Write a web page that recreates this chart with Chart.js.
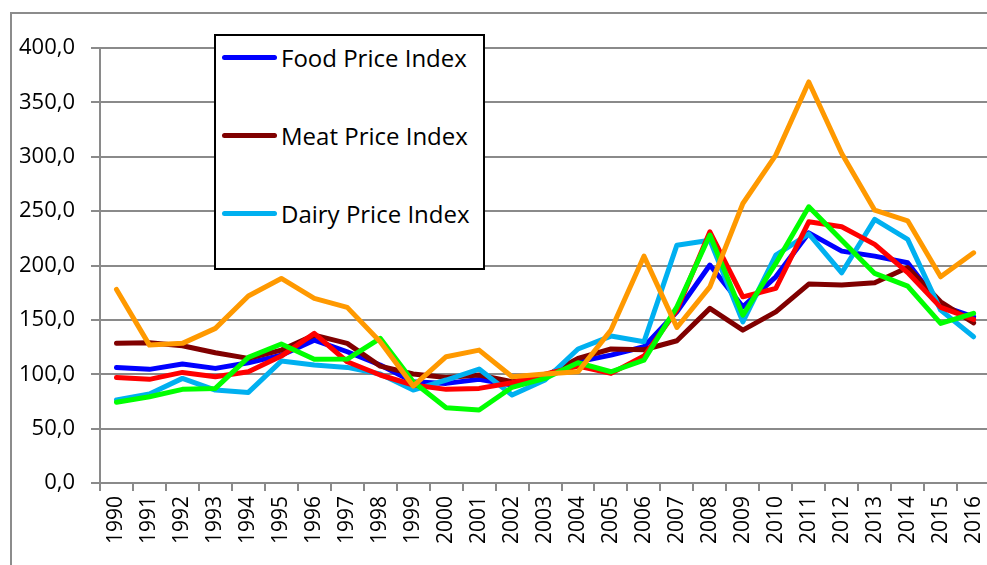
<!DOCTYPE html>
<html><head><meta charset="utf-8">
<script src="https://cdn.jsdelivr.net/npm/chart.js@4/dist/chart.umd.min.js"></script>
<style>
html,body{margin:0;padding:0;overflow:hidden;background:#fff;width:987px;height:565px;}
#wrap{position:relative;width:987px;height:565px;overflow:hidden;background:#fff;}
#frame{position:absolute;left:10px;top:12px;width:1100px;height:700px;border:2px solid #8c8c8c;box-sizing:border-box;}
#c{position:absolute;left:0;top:0;}
#legend{position:absolute;left:214px;top:34px;width:271px;height:236px;border:2px solid #000;background:#fff;box-sizing:border-box;font-family:'Open Sans',sans-serif;font-size:24px;color:#000;}
.item{position:absolute;left:6px;height:30px;display:flex;align-items:center;white-space:nowrap;}
.swatch{width:55px;height:5px;border-radius:3px;margin-right:4px;}
</style></head>
<body>
<div id="wrap">
<div id="frame"></div>
<canvas id="c" width="1004" height="565"></canvas>
<div id="legend"></div>
</div>
<script>
const years = ['1990','1991','1992','1993','1994','1995','1996','1997','1998','1999','2000','2001','2002','2003','2004','2005','2006','2007','2008','2009','2010','2011','2012','2013','2014','2015','2016'];
const foodIndex = [106.3,104.5,109.4,105.4,110.5,117.6,131.4,120.7,108.5,93.1,91.6,95.3,90.1,98.0,111.5,117.6,125.3,157.4,200.4,162.0,189.6,230.0,213.2,208.6,202.5,163.0,152.8];
const meatIndex = [128.4,129.0,126.2,119.8,114.6,122.2,136.0,128.4,107.5,100.2,97.1,99.3,93.1,98.3,114.6,123.2,122.5,130.8,160.6,140.6,157.4,182.9,182.0,184.1,198.2,166.6,147.3];
const dairyIndex = [76.3,81.8,96.2,85.5,83.3,112.1,108.5,106.3,100.2,85.5,94.7,104.8,80.9,94.7,123.2,135.1,129.9,218.7,223.3,148.2,209.5,229.0,193.3,242.4,224.0,159.0,134.5];
const cerealsIndex = [97.1,95.3,101.7,97.7,102.3,116.7,137.6,111.5,99.3,90.1,86.1,87.0,92.2,100.0,107.5,100.8,116.7,159.0,231.0,171.2,178.9,240.2,235.6,219.4,193.5,161.5,150.4];
const oilsIndex = [74.2,79.3,86.1,87.0,115.5,127.8,113.7,114.0,133.0,93.1,69.2,67.1,88.0,96.2,110.6,102.3,113.0,162.0,228.0,154.4,201.9,254.0,223.3,192.7,181.0,146.8,156.0];
const sugarIndex = [178.0,126.8,128.4,142.2,172.0,188.1,169.7,161.5,129.9,89.1,116.1,122.2,97.7,100.2,102.3,140.6,208.6,143.0,180.4,257.0,301.5,368.8,303.0,250.9,241.1,189.6,211.7];
const yTickLabels = ['0,0','50,0','100,0','150,0','200,0','250,0','300,0','350,0','400,0'];
const legendNames = ['Food Price Index','Meat Price Index','Dairy Price Index'];

const series = [
  {label:'Food Price Index', data:foodIndex, color:'#0000ff', order:6},
  {label:'Meat Price Index', data:meatIndex, color:'#800000', order:5},
  {label:'Dairy Price Index', data:dairyIndex, color:'#00b0f0', order:4},
  {label:'Cereals Price Index', data:cerealsIndex, color:'#ff0000', order:3},
  {label:'Oils Price Index', data:oilsIndex, color:'#00ff00', order:2},
  {label:'Sugar Price Index', data:sugarIndex, color:'#ff9900', order:1}
];

const gridColor = '#8a8a8a';
new Chart(document.getElementById('c'), {
  type:'line',
  data:{
    labels:years,
    datasets:series.map(s=>({label:s.label,data:s.data,borderColor:s.color,backgroundColor:s.color,borderWidth:5,pointRadius:0,tension:0,borderCapStyle:'round',borderJoinStyle:'round',order:s.order,fill:false}))
  },
  options:{
    responsive:false,animation:false,devicePixelRatio:1,
    layout:{padding:{left:0,top:48,right:10,bottom:0}},
    plugins:{legend:{display:false},tooltip:{enabled:false}},
    scales:{
      x:{
        type:'category',offset:true,
        grid:{offset:true,drawOnChartArea:false,tickLength:8,color:gridColor,lineWidth:2},
        border:{color:gridColor,width:2},
        ticks:{autoSkip:false,minRotation:90,maxRotation:90,padding:5,color:'#000',font:{family:'Open Sans',size:21}},
        afterFit:(s)=>{s.height=82;}
      },
      y:{
        min:0,max:400,
        grid:{color:gridColor,lineWidth:2,tickLength:9},
        border:{color:gridColor,width:2},
        ticks:{stepSize:50,padding:16,color:'#000',font:{family:'Open Sans',size:22},callback:(v,i)=>yTickLabels[i]},
        afterFit:(s)=>{s.width=100;}
      }
    }
  }
});

const lg = document.getElementById('legend');
const centers = [21, 99, 177];
legendNames.forEach((n,i)=>{
  const s = series.find(x=>x.label===n);
  const d = document.createElement('div');
  d.className='item';
  d.style.top=(centers[i]-15)+'px';
  d.innerHTML='<span class="swatch" style="background:'+s.color+'"></span><span>'+n+'</span>';
  lg.appendChild(d);
});
</script>
</body></html>
